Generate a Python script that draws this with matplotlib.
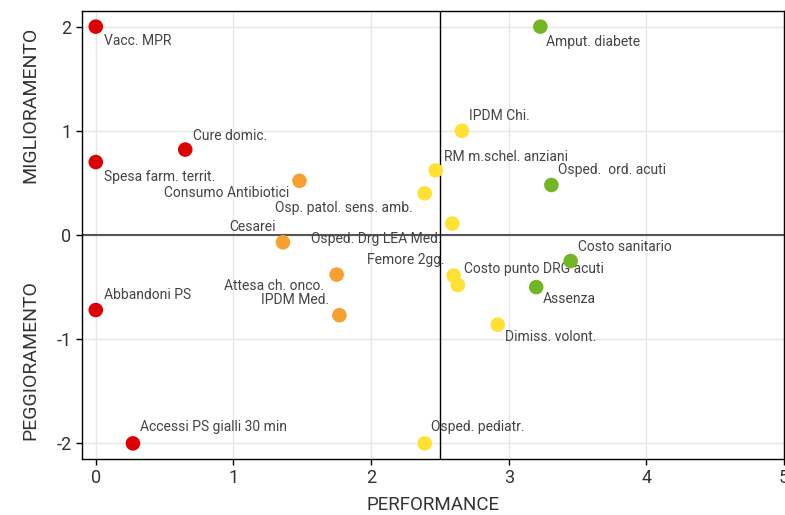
import matplotlib
matplotlib.use('Agg')
import matplotlib.pyplot as plt

plt.rcParams['font.family'] = ['Roboto', 'DejaVu Sans']
plt.rcParams['axes.unicode_minus'] = False

# indicatori: performance (x), variazione (y)
red_names = ["Vacc. MPR", "Cure domic.", "Spesa farm. territ.", "Abbandoni PS",
             "Accessi PS gialli 30 min"]
red_x = [0.0, 0.65, 0.0, 0.0, 0.27]
red_y = [2.0, 0.82, 0.70, -0.72, -2.0]

orange_names = ["Consumo Antibiotici", "Cesarei", "Attesa ch. onco.", "IPDM Med."]
orange_x = [1.48, 1.36, 1.75, 1.77]
orange_y = [0.52, -0.07, -0.38, -0.77]

yellow_names = ["IPDM Chi.", "RM m.schel. anziani", "Osp. patol. sens. amb.",
                "Osped. Drg LEA Med.", "Femore 2gg.", "Costo punto DRG acuti",
                "Dimiss. volont.", "Osped. pediatr."]
yellow_x = [2.66, 2.47, 2.39, 2.59, 2.60, 2.63, 2.92, 2.39]
yellow_y = [1.0, 0.62, 0.40, 0.11, -0.39, -0.48, -0.86, -2.0]

green_names = ["Amput. diabete", "Osped.  ord. acuti", "Costo sanitario", "Assenza"]
green_x = [3.23, 3.31, 3.45, 3.20]
green_y = [2.0, 0.48, -0.25, -0.50]

# label placement: (dx, dy) in pixels, horizontal alignment
label_pos = {
    "Vacc. MPR": (8, -14, "left"),
    "Cure domic.": (8, 14, "left"),
    "Spesa farm. territ.": (8, -15, "left"),
    "Abbandoni PS": (8, 15, "left"),
    "Accessi PS gialli 30 min": (7, 16, "left"),
    "Consumo Antibiotici": (-10, -12, "right"),
    "Cesarei": (-7, 15, "right"),
    "Attesa ch. onco.": (-13, -11, "right"),
    "IPDM Med.": (-10, 15, "right"),
    "IPDM Chi.": (7, 15, "left"),
    "RM m.schel. anziani": (8, 13, "left"),
    "Osp. patol. sens. amb.": (-12, -15, "right"),
    "Osped. Drg LEA Med.": (-11, -15, "right"),
    "Femore 2gg.": (-9, 16, "right"),
    "Costo punto DRG acuti": (6, 16, "left"),
    "Dimiss. volont.": (7, -12, "left"),
    "Osped. pediatr.": (6, 16, "left"),
    "Amput. diabete": (6, -15, "left"),
    "Osped.  ord. acuti": (7, 15, "left"),
    "Costo sanitario": (7, 14, "left"),
    "Assenza": (7, -12, "left"),
}

groups = [
    (red_names, red_x, red_y, "#dd0000"),
    (orange_names, orange_x, orange_y, "#f7a030"),
    (yellow_names, yellow_x, yellow_y, "#ffe033"),
    (green_names, green_x, green_y, "#72b626"),
]

text_col = "#444444"

fig = plt.figure(figsize=(7.85, 5.15), dpi=100)
ax = fig.add_axes([82 / 785, 1 - 459 / 515, 702 / 785, 448 / 515])

ax.set_xlim(-0.1, 5.0)
ax.set_ylim(-2.15, 2.15)
ax.set_xticks([0, 1, 2, 3, 4, 5])
ax.set_yticks([-2, -1, 0, 1, 2])
ax.grid(True, color="#e6e6e6", linewidth=1)
ax.set_axisbelow(True)

ax.axhline(0, color="#555555", linewidth=1.5, zorder=1)
ax.axvline(2.5, color="black", linewidth=1, zorder=1)

for names, xs, ys, col in groups:
    for n, x, y in zip(names, xs, ys):
        dx, dy, ha = label_pos[n]
        ax.annotate(n, (x, y), xytext=(dx, dy), textcoords="offset pixels",
                    ha=ha, va="center", fontsize=10, color=text_col, zorder=2)
    ax.scatter(xs, ys, s=110, color=col, edgecolors="none", zorder=3)

for side in ["left", "bottom", "top", "right"]:
    ax.spines[side].set_color("black")
    ax.spines[side].set_linewidth(1)

ax.tick_params(colors="#333333", labelsize=13, length=4, width=1)
ax.tick_params(axis="both", color="black")

ax.set_xlabel("PERFORMANCE", fontsize=13.5, color="#333333", labelpad=6)
fig.text(30 / 785, 1 - 105 / 515, "MIGLIORAMENTO", rotation=90, ha="center",
         va="center", fontsize=14, color="#333333")
fig.text(30 / 785, 1 - 360 / 515, "PEGGIORAMENTO", rotation=90, ha="center",
         va="center", fontsize=14, color="#333333")

fig.savefig("out.png", dpi=100)
